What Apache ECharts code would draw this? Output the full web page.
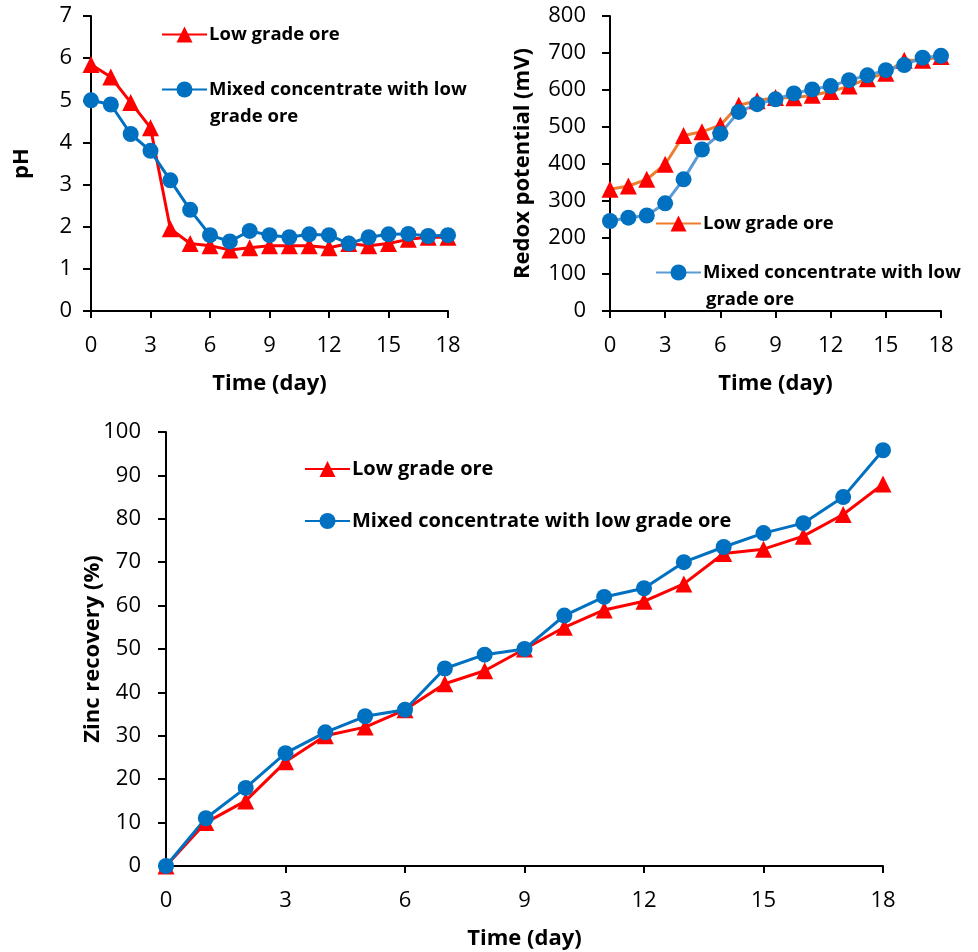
<!DOCTYPE html>
<html>
<head>
<meta charset="utf-8">
<script src="https://cdn.jsdelivr.net/npm/echarts@6/dist/echarts.min.js"></script>
<style>
  html, body { margin: 0; padding: 0; background: #fff; }
  #chart { width: 978px; height: 952px; }
</style>
</head>
<body>
<div id="chart"></div>
<script>
const days = [0, 1, 2, 3, 4, 5, 6, 7, 8, 9, 10, 11, 12, 13, 14, 15, 16, 17, 18]

const phLow   = [5.85, 5.55, 4.95, 4.35, 1.95, 1.6, 1.55, 1.45, 1.5, 1.55, 1.55, 1.55, 1.5, 1.6, 1.55, 1.6, 1.7, 1.75, 1.75]
const phMixed = [5.0, 4.9, 4.2, 3.8, 3.1, 2.4, 1.8, 1.65, 1.9, 1.8, 1.75, 1.82, 1.8, 1.6, 1.75, 1.82, 1.83, 1.78, 1.8]

const redoxLow   = [330, 339, 357, 398, 476, 486, 504, 558, 570, 579, 578, 585, 595, 610, 630, 645, 680, 680, 690]
const redoxMixed = [244, 253, 259, 292, 357, 438, 481, 540, 561, 574, 590, 601, 610, 626, 639, 653, 667, 687, 692]

const zincLow   = [0, 10, 15, 24, 30, 32, 36, 42, 45, 50, 55, 59, 61, 65, 72, 73, 76, 81, 88]
const zincMixed = [0, 11, 18, 26, 30.8, 34.5, 36, 45.5, 48.7, 50, 57.7, 62, 64, 70, 73.5, 76.7, 79, 85, 95.8]

const labels = {
  phLow: 'Low grade ore',
  phMixed: 'Mixed concentrate with low',
  redoxLow: 'Low grade ore',
  redoxMixed: 'Mixed concentrate with low',
  zincLow: 'Low grade ore',
  zincMixed: 'Mixed concentrate with low grade ore'
}

const FONT = 'Open Sans'
const RED = '#FF0000'
const BLUE = '#0070C0'

function pairs(values) {
  return days.map((d, i) => [d, values[i]])
}

function xAxis(gridIndex) {
  return {
    type: 'value', gridIndex, min: 0, max: 18, interval: 3,
    name: 'Time (day)', nameLocation: 'middle', nameGap: 62,
    nameTextStyle: { fontFamily: FONT, fontSize: 22, fontWeight: 'bold', color: '#000' },
    axisLine: { show: true, onZero: false, lineStyle: { color: '#000', width: 2 } },
    axisTick: { show: true, length: 7, lineStyle: { color: '#000', width: 2 } },
    axisLabel: { fontFamily: FONT, fontSize: 22, color: '#000', margin: 24 },
    splitLine: { show: false }
  }
}

function yAxis(gridIndex, name, max, interval, nameGap, margin) {
  return {
    type: 'value', gridIndex, min: 0, max, interval,
    name, nameLocation: 'middle', nameGap, nameMoveOverlap: false,
    nameTextStyle: { fontFamily: FONT, fontSize: 22, fontWeight: 'bold', color: '#000' },
    axisLine: { show: true, lineStyle: { color: '#000', width: 2 } },
    axisTick: { show: true, length: 8, lineStyle: { color: '#000', width: 2 } },
    axisLabel: { fontFamily: FONT, fontSize: 22, color: '#000', margin },
    splitLine: { show: false }
  }
}

function series(name, idx, values, lineColor, markColor, symbol) {
  return {
    name, type: 'line', xAxisIndex: idx, yAxisIndex: idx,
    data: pairs(values), symbol, symbolSize: symbol === 'triangle' ? 17 : 16,
    clip: false,
    lineStyle: { color: lineColor, width: 3 },
    itemStyle: { color: markColor },
    animation: false
  }
}

function legend(name, left, top, fontSize) {
  return {
    data: [name], left, top, orient: 'vertical', padding: 0,
    itemWidth: 45, itemHeight: 20, selectedMode: false,
    formatter: n => labels[n],
    textStyle: { fontFamily: FONT, fontSize, fontWeight: 'bold', color: '#000', padding: [0, 0, 0, -3] }
  }
}

const secondLine = (left, top) => ({
  type: 'text', left, top,
  style: { text: 'grade ore', font: 'bold 18.5px "Open Sans"', fill: '#000' }
})

const chart = echarts.init(document.getElementById('chart'))
chart.setOption({
  backgroundColor: '#fff',
  animation: false,
  grid: [
    { left: 91, top: 16, width: 357, height: 295 },
    { left: 610, top: 16, width: 331, height: 295 },
    { left: 166, top: 432, width: 717, height: 434 }
  ],
  xAxis: [xAxis(0), xAxis(1), xAxis(2)],
  yAxis: [
    yAxis(0, 'pH', 7, 1, 58, 19),
    yAxis(1, 'Redox potential (mV)', 800, 100, 76, 24),
    yAxis(2, 'Zinc recovery (%)', 100, 10, 62, 25)
  ],
  legend: [
    legend('phLow', 161, 25, 18.5),
    legend('phMixed', 161, 80, 18.5),
    legend('redoxLow', 655, 214, 18.5),
    legend('redoxMixed', 655, 263, 18.5),
    legend('zincLow', 304, 459, 20),
    legend('zincMixed', 304, 511, 20)
  ],
  graphic: [secondLine(210, 107), secondLine(706, 290)],
  series: [
    series('phLow', 0, phLow, RED, RED, 'triangle'),
    series('phMixed', 0, phMixed, BLUE, BLUE, 'circle'),
    series('redoxLow', 1, redoxLow, '#ED7D31', RED, 'triangle'),
    series('redoxMixed', 1, redoxMixed, '#5B9BD5', BLUE, 'circle'),
    series('zincLow', 2, zincLow, RED, RED, 'triangle'),
    series('zincMixed', 2, zincMixed, BLUE, BLUE, 'circle')
  ]
})
</script>
</body>
</html>
